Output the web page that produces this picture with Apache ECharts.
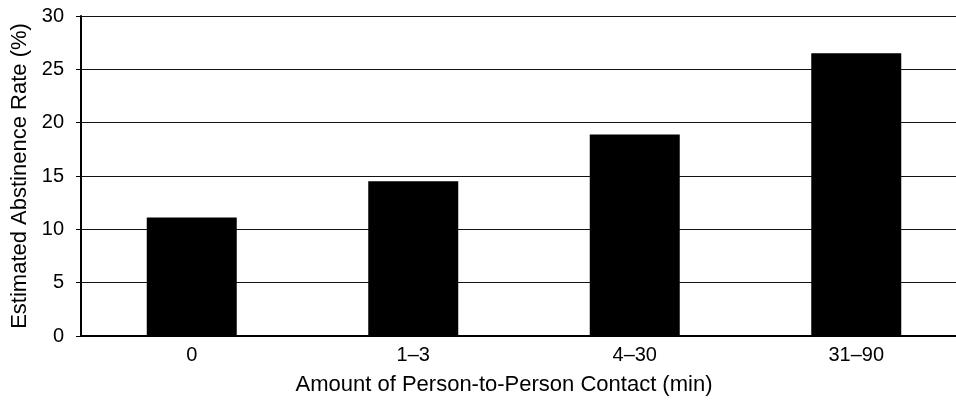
<!DOCTYPE html>
<html lang="en">
<head>
    <meta charset="UTF-8">
    <title>Estimated Abstinence Rate</title>
    <script src="https://cdn.jsdelivr.net/npm/echarts@6/dist/echarts.min.js"></script>
    <style>
        html, body { margin: 0; padding: 0; background: #fff; }
    </style>
</head>
<body>
<div id="main" style="width: 956px;height:408px;"></div>

<script type="text/javascript">
    // data
    var categories = ['0', '1\u20133', '4\u201330', '31\u201390'];
    var rates = [11.1, 14.5, 18.9, 26.5];

    var myChart = echarts.init(document.getElementById('main'));
    var font = '"Liberation Sans", Arial, sans-serif';

    var option = {
        animation: false,
        grid: {
            left: 81,
            width: 886,   // plot runs past the right edge in the original crop
            top: 16,
            height: 320,
            outerBoundsMode: 'none',
            containLabel: false
        },
        xAxis: {
            type: 'category',
            data: categories,
            name: 'Amount of Person-to-Person Contact (min)',
            nameLocation: 'middle',
            nameGap: 38,
            nameTextStyle: { color: '#000', fontSize: 22, fontFamily: font, padding: [0, 40, 0, 0] },
            axisLine: { lineStyle: { color: '#000', width: 2 } },
            axisTick: { show: false },
            axisLabel: { color: '#000', fontSize: 20, fontFamily: font, margin: 9 }
        },
        yAxis: {
            type: 'value',
            min: 0,
            max: 30,
            interval: 5,
            name: 'Estimated Abstinence Rate (%)',
            nameLocation: 'middle',
            nameGap: 47,
            nameTextStyle: { color: '#000', fontSize: 22, fontFamily: font },
            axisLine: { show: true, lineStyle: { color: '#000', width: 2 } },
            axisTick: { show: true, length: 5, lineStyle: { color: '#000' } },
            axisLabel: { color: '#000', fontSize: 20, fontFamily: font, margin: 17 },
            splitLine: { lineStyle: { color: '#111', width: 1 } }
        },
        series: [
            {
                type: 'bar',
                data: rates,
                barWidth: 90,
                itemStyle: { color: '#000' }
            }
        ]
    };
    myChart.setOption(option);
</script>
</body>
</html>
